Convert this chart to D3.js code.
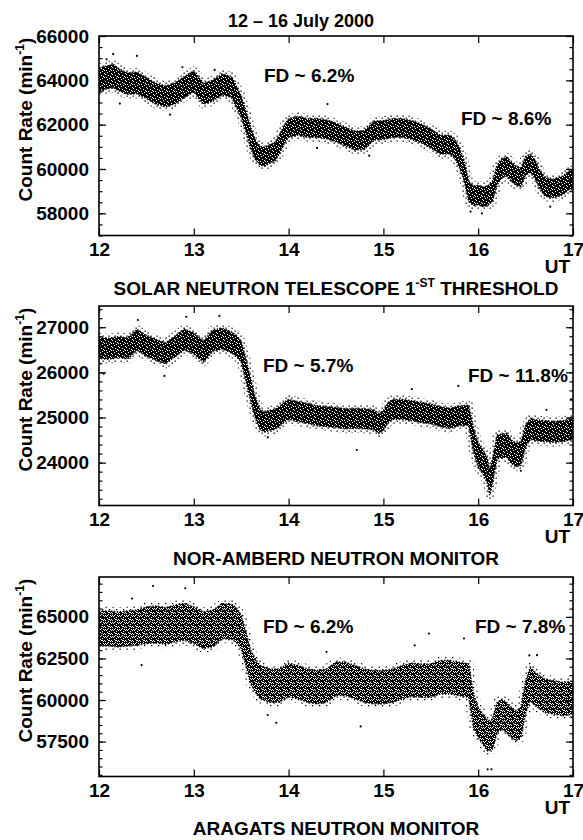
<!DOCTYPE html>
<html>
<head>
<meta charset="utf-8">
<script src="https://cdn.jsdelivr.net/npm/d3@7"></script>
<style>
  body { margin: 0; background: #fff; }
  svg text { font-family: "Liberation Sans", Arial, Helvetica, sans-serif; font-weight: bold; fill: #000; }
</style>
</head>
<body>
<div id="chart"></div>
<script>
// ---- data (time in days of July 2000, counts per minute) ----
const dayTicks = [12, 13, 14, 15, 16, 17];

// Solar Neutron Telescope, 1st threshold
const t1 = [12.0, 12.05, 12.1, 12.15, 12.2, 12.3, 12.4, 12.5, 12.6, 12.7, 12.8, 12.9, 13.0, 13.1, 13.2, 13.3, 13.4, 13.45,
  13.5, 13.55, 13.6, 13.65, 13.7, 13.75, 13.8, 13.85, 13.9, 13.95, 14.0, 14.1, 14.2, 14.3, 14.4, 14.5, 14.6, 14.7, 14.8,
  14.9, 15.0, 15.1, 15.2, 15.3, 15.4, 15.5, 15.6, 15.7, 15.75, 15.8, 15.85, 15.9, 15.95, 16.0, 16.05, 16.1, 16.15, 16.2,
  16.25, 16.3, 16.35, 16.4, 16.45, 16.5, 16.55, 16.6, 16.65, 16.7, 16.75, 16.8, 16.85, 16.9, 16.95, 17.0];
const rate1 = [64000, 64100, 64150, 64200, 64050, 63850, 63880, 63650, 63400, 63280, 63400, 63700, 63950, 63400, 63530, 63820, 63690, 63260,
  62800, 62130, 61400, 60860, 60600, 60560, 60680, 60750, 61080, 61530, 61850, 61950, 61850, 61850, 61790, 61650, 61460, 61280, 61310,
  61730, 61760, 61850, 61850, 61760, 61600, 61380, 61100, 61100, 60930, 60520, 59960, 58980, 58790, 58830, 58750, 58790, 58980, 59730,
  60030, 60110, 59880, 59690, 59630, 60140, 60260, 59990, 59500, 59230, 59130, 59130, 59200, 59280, 59470, 59540];
const spread1 = [520, 520, 520, 520, 500, 480, 480, 470, 470, 470, 470, 470, 470, 470, 470, 470, 470, 470,
  470, 470, 460, 440, 420, 420, 420, 420, 420, 420, 420, 420, 420, 420, 420, 420, 420, 420, 420,
  420, 420, 420, 420, 420, 420, 420, 420, 420, 420, 440, 440, 440, 440, 440, 440, 440, 440, 440,
  420, 420, 420, 420, 420, 420, 420, 420, 420, 420, 420, 420, 420, 420, 420, 420];
const extra1 = [[12.08, 64950], [12.15, 65190], [12.4, 65100], [12.88, 64590], [13.22, 64470], [14.41, 62930],
  [15.92, 58080], [16.04, 58000], [16.76, 58300], [12.22, 62950], [12.75, 62450], [14.3, 60950], [14.85, 60600]];

// Nor-Amberd neutron monitor
const t2 = [12.0, 12.1, 12.2, 12.3, 12.4, 12.5, 12.6, 12.7, 12.8, 12.9, 13.0, 13.1, 13.2, 13.3, 13.4, 13.45,
  13.5, 13.55, 13.6, 13.65, 13.7, 13.75, 13.8, 13.85, 13.9, 13.95, 14.0, 14.1, 14.2, 14.3, 14.4, 14.5, 14.6, 14.7,
  14.8, 14.9, 14.95, 15.0, 15.05, 15.1, 15.2, 15.3, 15.4, 15.5, 15.6, 15.7, 15.8, 15.9, 15.95, 16.0, 16.05, 16.1,
  16.12, 16.15, 16.2, 16.25, 16.3, 16.35, 16.4, 16.45, 16.5, 16.55, 16.6, 16.7, 16.8, 16.9, 17.0];
const rate2 = [26540, 26520, 26560, 26530, 26720, 26590, 26500, 26420, 26570, 26730, 26640, 26460, 26700, 26750, 26660, 26590,
  26460, 26050, 25610, 25200, 24950, 24900, 24940, 24950, 25020, 25110, 25180, 25130, 25090, 25040, 25020, 25000, 24970, 24980,
  24970, 24950, 24870, 24930, 25110, 25180, 25180, 25150, 25110, 25080, 25020, 24980, 25040, 25050, 24500, 24170, 24020, 23800,
  23550, 23800, 24350, 24370, 24390, 24240, 24170, 24200, 24580, 24750, 24720, 24700, 24680, 24700, 24750];
const spread2 = [230, 230, 230, 230, 230, 230, 230, 230, 230, 230, 230, 230, 230, 230, 230, 230,
  230, 240, 240, 230, 220, 220, 220, 220, 220, 220, 220, 220, 220, 220, 220, 220, 220, 220,
  220, 220, 220, 220, 220, 220, 220, 220, 220, 220, 220, 220, 220, 220, 260, 270, 270, 270,
  270, 270, 260, 260, 260, 260, 260, 260, 240, 230, 230, 230, 230, 230, 230];
const extra2 = [[12.92, 27230], [13.27, 27250], [12.41, 27160], [12.69, 25920], [12.05, 25970], [15.79, 25700],
  [14.72, 24280], [16.72, 25170], [13.78, 24560], [16.98, 25400], [16.45, 23820], [15.3, 25630]];

// Aragats neutron monitor
const t3 = [12.0, 12.1, 12.2, 12.3, 12.4, 12.5, 12.6, 12.7, 12.8, 12.9, 13.0, 13.1, 13.2, 13.3, 13.4, 13.45,
  13.5, 13.55, 13.6, 13.65, 13.7, 13.8, 13.9, 14.0, 14.1, 14.2, 14.3, 14.4, 14.5, 14.6, 14.7, 14.8, 14.9, 15.0,
  15.1, 15.2, 15.3, 15.4, 15.5, 15.6, 15.7, 15.8, 15.9, 15.95, 16.0, 16.05, 16.1, 16.15, 16.2, 16.25, 16.3,
  16.35, 16.4, 16.45, 16.5, 16.55, 16.6, 16.7, 16.8, 16.9, 17.0];
const rate3 = [64300, 64300, 64250, 64300, 64350, 64500, 64550, 64450, 64600, 64700, 64500, 64200, 64300, 64750, 64700, 64500,
  64100, 63090, 61970, 61470, 61070, 60870, 60870, 61200, 61070, 60870, 60770, 60870, 61270, 61270, 61070, 60870, 60770, 60770,
  60870, 61070, 61210, 61170, 61170, 61370, 61370, 61270, 61170, 59360, 58650, 58250, 57840, 57940, 58950, 59150, 58950,
  58650, 58450, 58650, 60160, 60970, 60670, 60260, 60160, 60060, 60160];
const spread3 = [1050, 1050, 1050, 1050, 1050, 1100, 1100, 1100, 1100, 1100, 1100, 1100, 1100, 1050, 1050, 1050,
  1000, 1000, 1000, 1000, 1000, 1000, 1000, 1000, 1000, 1000, 1000, 1000, 1000, 1000, 1000, 1000, 1000, 1000,
  1000, 1000, 1000, 1000, 1000, 1000, 1000, 1000, 1000, 1000, 900, 900, 900, 900, 900, 900, 900,
  900, 900, 900, 950, 1000, 1000, 1000, 1000, 1000, 1000];
const extra3 = [[12.57, 66860], [12.91, 66720], [12.35, 66100], [13.87, 58630], [15.48, 64000], [15.33, 63290],
  [14.76, 58410], [16.1, 55830], [16.14, 55830], [16.54, 62680], [16.62, 62700], [14.4, 62900], [15.85, 63700],
  [12.45, 62100], [13.78, 59100]];

const yTicks1 = [58000, 60000, 62000, 64000, 66000];
const yTicks2 = [24000, 25000, 26000, 27000];
const yTicks3 = [57500, 60000, 62500, 65000];

const fdLabels1 = ["FD ~ 6.2%", "FD ~ 8.6%"];
const fdLabels2 = ["FD ~ 5.7%", "FD ~ 11.8%"];
const fdLabels3 = ["FD ~ 6.2%", "FD ~ 7.8%"];

// ---- layout ----
const W = 583, H = 840;
const left = 99, right = 573, plotH = 199.5;

const svg = d3.select("#chart").append("svg")
  .attr("width", W).attr("height", H)
  .attr("viewBox", `0 0 ${W} ${H}`);

const defs = svg.append("defs");

// dotted textures standing in for the thousands of 1-minute points
function texture(id, size, bg, dots, dotColor, r) {
  const p = defs.append("pattern").attr("id", id)
    .attr("patternUnits", "userSpaceOnUse").attr("width", size[0]).attr("height", size[1]);
  if (bg) p.append("rect").attr("width", size[0]).attr("height", size[1]).attr("fill", bg);
  dots.forEach(([a, b]) => p.append("rect").attr("x", a).attr("y", b)
    .attr("width", r).attr("height", r).attr("fill", dotColor));
}
texture("dense", [7, 7], "#000", [[1, 0], [4, 1], [6, 3], [2, 2], [0, 4], [3, 5], [5, 6], [6, 0]], "#fff", 1);
texture("loose", [7, 7], "#000", [[1, 0], [4, 1], [6, 3], [2, 2], [0, 4], [3, 5], [5, 6], [6, 0], [3, 3], [5, 4], [0, 6], [2, 6], [4, 3]], "#fff", 1);
texture("halo", [6, 5], null, [[0.5, 0.5], [3.5, 2.5]], "#000", 1.3);
texture("haloLoose", [7, 6], null, [[0.5, 0.5], [4, 3]], "#000", 1.3);

const x = d3.scaleLinear().domain([12, 17]).range([left, right]);

svg.append("text")
  .attr("x", 301).attr("y", 27)
  .attr("text-anchor", "middle")
  .attr("font-size", 18)
  .text("12 \u2013 16 July 2000");

const panels = [
  { t: t1, v: rate1, s: spread1, extra: extra1, yTicks: yTicks1, minorStep: 500, domain: [57000, 66000],
    top: 36, fill: "dense", halo: "halo", fd: fdLabels1, fdPos: [[264, 46], [461, 89]], capY: 295,
    caption: ["SOLAR NEUTRON TELESCOPE 1", "-ST", " THRESHOLD"] },
  { t: t2, v: rate2, s: spread2, extra: extra2, yTicks: yTicks2, minorStep: 200, domain: [23050, 27470],
    top: 306, fill: "dense", halo: "halo", fd: fdLabels2, fdPos: [[263, 66], [468, 76]], capY: 565,
    caption: ["NOR-AMBERD NEUTRON MONITOR"] },
  { t: t3, v: rate3, s: spread3, extra: extra3, yTicks: yTicks3, minorStep: 500, domain: [55400, 67400],
    top: 577, fill: "loose", halo: "haloLoose", fd: fdLabels3, fdPos: [[263, 56], [475, 56]], capY: 835,
    caption: ["ARAGATS NEUTRON MONITOR"] }
];

panels.forEach((p, k) => {
  const bottom = p.top + plotH;
  const y = d3.scaleLinear().domain(p.domain).range([bottom, p.top]);
  const minor = d3.range(Math.ceil(p.domain[0] / p.minorStep) * p.minorStep, p.domain[1], p.minorStep);

  const clipId = "clip" + k;
  defs.append("clipPath").attr("id", clipId)
    .append("rect").attr("x", left).attr("y", p.top).attr("width", right - left).attr("height", plotH);

  const g = svg.append("g").attr("clip-path", `url(#${clipId})`);
  const idx = d3.range(p.t.length);

  const band = d3.area()
    .x(i => x(p.t[i]))
    .y0(i => y(p.v[i] - p.s[i]))
    .y1(i => y(p.v[i] + p.s[i]));

  // scattered fringe around the dense cloud
  g.append("path")
    .datum(idx)
    .attr("d", band)
    .attr("fill", "none")
    .attr("stroke", `url(#${p.halo})`)
    .attr("stroke-width", 9)
    .attr("stroke-linejoin", "round");

  g.append("path")
    .datum(idx)
    .attr("d", band)
    .attr("fill", `url(#${p.fill})`)
    .attr("stroke", "#000")
    .attr("stroke-width", 1.6)
    .attr("stroke-dasharray", "1.3 1.7");

  g.selectAll("circle")
    .data(p.extra)
    .enter()
    .append("circle")
    .attr("cx", d => x(d[0]))
    .attr("cy", d => y(d[1]))
    .attr("r", 1.1)
    .attr("fill", "#000");

  // axes: ticks point inward on all four sides
  const styleAxis = sel => {
    sel.select(".domain").remove();
    sel.attr("font-size", 19).attr("font-family", null);
    sel.selectAll("line").attr("stroke-width", 1.2);
  };

  svg.append("g").attr("transform", `translate(${left},0)`)
    .call(d3.axisLeft(y).tickValues(minor).tickSizeInner(-3.5).tickSizeOuter(0).tickFormat(""))
    .call(styleAxis);
  svg.append("g").attr("transform", `translate(${left},0)`)
    .call(d3.axisLeft(y).tickValues(p.yTicks).tickSizeInner(-7).tickSizeOuter(0).tickPadding(10).tickFormat(d3.format("d")))
    .call(styleAxis);
  svg.append("g").attr("transform", `translate(${right},0)`)
    .call(d3.axisRight(y).tickValues(minor).tickSizeInner(-3.5).tickSizeOuter(0).tickFormat(""))
    .call(styleAxis);
  svg.append("g").attr("transform", `translate(${right},0)`)
    .call(d3.axisRight(y).tickValues(p.yTicks).tickSizeInner(-7).tickSizeOuter(0).tickFormat(""))
    .call(styleAxis);
  svg.append("g").attr("transform", `translate(0,${bottom})`)
    .call(d3.axisBottom(x).tickValues(dayTicks).tickSizeInner(-7).tickSizeOuter(0).tickPadding(7).tickFormat(d3.format("d")))
    .call(styleAxis);
  svg.append("g").attr("transform", `translate(0,${p.top})`)
    .call(d3.axisTop(x).tickValues(dayTicks).tickSizeInner(-7).tickSizeOuter(0).tickFormat(""))
    .call(styleAxis);

  svg.append("rect")
    .attr("x", left).attr("y", p.top).attr("width", right - left).attr("height", plotH)
    .attr("fill", "none").attr("stroke", "#000").attr("stroke-width", 1.6);

  svg.append("text")
    .attr("x", 570).attr("y", bottom + 37)
    .attr("text-anchor", "end").attr("font-size", 19)
    .text("UT");

  // y-axis title, rotated
  const yl = svg.append("text")
    .attr("transform", `translate(32,${bottom - 34}) rotate(-90)`)
    .attr("font-size", 19);
  yl.append("tspan").text("Count Rate (min");
  yl.append("tspan").attr("dy", -8).attr("font-size", 12).text("-1");
  yl.append("tspan").attr("dy", 8).text(")");

  p.fd.forEach((s, j) => {
    svg.append("text")
      .attr("x", p.fdPos[j][0]).attr("y", p.top + p.fdPos[j][1])
      .attr("font-size", 19)
      .text(s);
  });

  const cap = svg.append("text")
    .attr("x", (left + right) / 2).attr("y", p.capY)
    .attr("text-anchor", "middle").attr("font-size", 19);
  cap.append("tspan").text(p.caption[0]);
  if (p.caption.length > 1) {
    cap.append("tspan").attr("dy", -8).attr("font-size", 12).text(p.caption[1]);
    cap.append("tspan").attr("dy", 8).text(p.caption[2]);
  }
});
</script>
</body>
</html>
